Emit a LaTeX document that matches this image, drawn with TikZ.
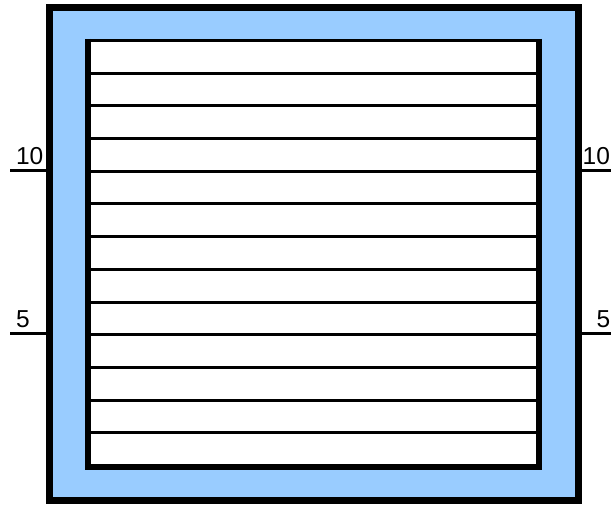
\documentclass[tikz,border=0pt]{standalone}
\usepackage{fontspec}
\setmainfont{Liberation Sans}
\usepackage{xcolor}
\usetikzlibrary{positioning}
\definecolor{panelblue}{RGB}{153,204,255}

\begin{document}
\begin{tikzpicture}[
  x=1pt, y=-1pt,
  frame/.style={draw=black, line width=7pt, fill=panelblue},
  stripe/.style={draw=black, line width=3pt},
  edge/.style={draw=black, line width=6pt},
  tick/.style={draw=black, line width=3pt},
  lbl/.style={inner sep=0pt, font=\fontsize{24.5}{25}\selectfont},
]
\useasboundingbox (0,0) rectangle (611,505);
% outer frame
\draw[frame] (49,8) rectangle (578,500);
% inner box with stripes
\fill[white] (88,40.5) rectangle (539,467);
\foreach \k in {0,...,12}
  \draw[stripe] (88,40.5+32.7*\k) -- (539,40.5+32.7*\k);
\draw[edge] (88,39) -- (88,470);
\draw[edge] (539,39) -- (539,470);
\draw[edge] (85,467) -- (542,467);
% level marks
\coordinate (lt10) at (10,171);
\coordinate (lt5) at (10,334);
\coordinate (rt10) at (611,171);
\coordinate (rt5) at (611,334);
\node[lbl, anchor=base east] (l10) at (43.5,165) {10};
\node[lbl, anchor=base east] (l5) at (30,328) {5};
\node[lbl, anchor=base west] (r10) at (582.5,165) {10};
\node[lbl, anchor=base west] (r5) at (596.5,328) {5};
\draw[tick] (lt10) -- (45.5,171);
\draw[tick] (lt5) -- (45.5,334);
\draw[tick] (581.5,171) -- (rt10);
\draw[tick] (581.5,334) -- (rt5);
\end{tikzpicture}
\end{document}
